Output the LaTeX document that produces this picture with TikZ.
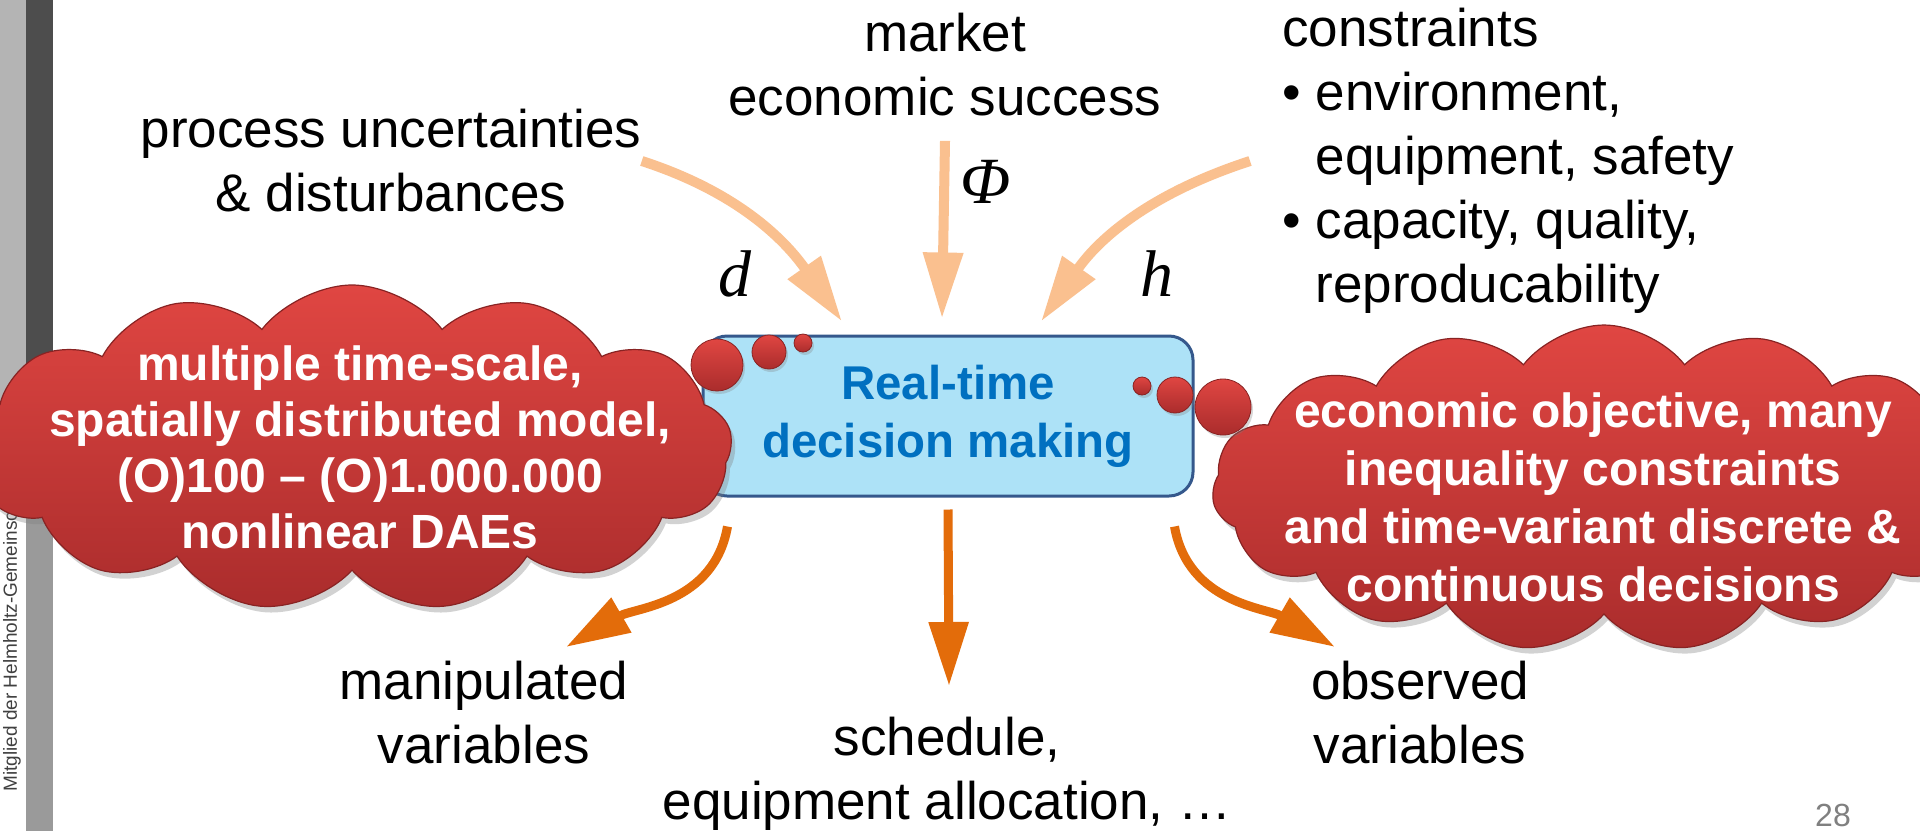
\documentclass[tikz,border=0pt]{standalone}
\usepackage{fontspec}
\setmainfont{Liberation Sans}
\newfontfamily\symfont{Liberation Serif}
\usetikzlibrary{arrows.meta,shapes.symbols,shadows}

\definecolor{cloudtop}{RGB}{224,70,66}
\definecolor{cloudbot}{RGB}{170,44,44}
\definecolor{inarrow}{RGB}{250,192,143}
\definecolor{outarrow}{RGB}{227,108,10}
\definecolor{boxfill}{RGB}{173,226,247}
\definecolor{boxline}{RGB}{53,88,140}
\definecolor{boxtext}{RGB}{0,112,192}
\definecolor{sidelight}{RGB}{180,180,180}
\definecolor{sidedark}{RGB}{77,77,77}
\definecolor{sidemid}{RGB}{154,154,154}

\begin{document}
\begin{tikzpicture}[x=0.5pt,y=0.5pt]
    \tikzstyle{lbl}=[align=center, inner sep=0pt, font=\fontsize{26.5}{32}\selectfont]
    \tikzstyle{sym}=[inner sep=0pt, font=\symfont\itshape\fontsize{33}{36}\selectfont]
    \tikzstyle{cloudy}=[cloud, cloud puffs=13, cloud puff arc=105, cloud ignores aspect,
                        top color=cloudtop, bottom color=cloudbot, draw=cloudbot!80!black, line width=0.6pt,
                        drop shadow={opacity=.35, shadow xshift=2pt, shadow yshift=-3pt}]
    \tikzstyle{cloudtxt}=[align=center, inner sep=0pt, text=white, font=\bfseries\fontsize{24}{28}\selectfont]
    \tikzstyle{bubble}=[circle, inner sep=0pt, top color=cloudtop, bottom color=cloudbot,
                        draw=cloudbot!80!black, line width=0.4pt,
                        drop shadow={opacity=.3, shadow xshift=1pt, shadow yshift=-1.5pt}]
    \tikzstyle{inarr}=[inarrow, line width=5pt, -{Triangle[length=33pt,width=19pt]}]
    \tikzstyle{outarr}=[outarrow, line width=4.5pt, -{Triangle[length=32pt,width=19pt]}]

    \useasboundingbox (0,0) rectangle (1920,-831);
    \fill[white] (0,0) rectangle (1920,-831);

    % side bar
    \fill[sidelight] (0,0) rectangle (26,-450);
    \fill[sidedark]  (26,0) rectangle (53,-450);
    \fill[sidemid]   (26,-450) rectangle (53,-831);
    \node[rotate=90, anchor=west, inner sep=0pt, text=black!75, font=\fontsize{9.5}{10}\selectfont]
        (member) at (12,-792) {Mitglied der Helmholtz-Gemeinschaft};

    % labels
    \node[lbl] (market) at (945,-65) {market\\economic success};
    \node[lbl] (proc) at (391,-161) {process uncertainties\\\& disturbances};
    \node[lbl, align=left, anchor=west] (cons) at (1282,-161)
        {constraints\\\textbullet\ environment,\\\hphantom{\textbullet\ }equipment, safety\\
         \textbullet\ capacity, quality,\\\hphantom{\textbullet\ }reproducability};
    \node[lbl] (manip) at (484,-713) {manipulated\\variables};
    \node[lbl] (sched) at (947,-774) {schedule,\\equipment allocation, …};
    \node[lbl] (obs) at (1420,-713) {observed\\variables};

    \node[sym] (dsym) at (735,-274) {d};
    \node[sym] (psym) at (986,-182) {Φ};
    \node[sym] (hsym) at (1157,-274) {h};

    \node[text=black!50, inner sep=0pt, font=\fontsize{16}{18}\selectfont] (pageno) at (1833,-815) {28};

    % central box
    \node[rectangle, rounded corners=12pt, minimum width=245pt, minimum height=80pt,
          fill=boxfill, draw=boxline, line width=1.5pt, text=boxtext, align=center,
          font=\bfseries\fontsize{23.7}{29}\selectfont] (rtdm) at (948,-416) {Real-time\\decision making};

    % clouds
    \node[cloudy, minimum width=380pt, minimum height=163pt] (lcloud) at (352,-448) {};
    \node[cloudtxt] (ltext) at (360,-447)
        {multiple time-scale,\\spatially distributed model,\\(O)100 – (O)1.000.000\\nonlinear DAEs};
    \node[cloudy, cloud puffs=15, minimum width=392pt, minimum height=163pt] (rcloud) at (1604,-488) {};
    \node[cloudtxt, font=\bfseries\fontsize{24}{29}\selectfont] (rtext) at (1593,-497)
        {economic objective, many\\inequality constraints\\and time-variant discrete \&\\continuous decisions};

    \node[bubble, minimum size=26pt] (lb1) at (717,-365) {};
    \node[bubble, minimum size=17pt] (lb2) at (769,-352) {};
    \node[bubble, minimum size=9pt]  (lb3) at (803,-343) {};
    \node[bubble, minimum size=9pt]  (rb1) at (1142,-386) {};
    \node[bubble, minimum size=18pt] (rb2) at (1175,-395) {};
    \node[bubble, minimum size=28pt] (rb3) at (1223,-407) {};

    % arrows
    \coordinate (dtip) at ([xshift=-53pt,yshift=6.5pt]rtdm.north);
    \coordinate (ptip) at ([xshift=-3pt,yshift=8pt]rtdm.north);
    \coordinate (htip) at ([xshift=46.5pt,yshift=6.5pt]rtdm.north);
    \draw[inarr] (proc.east) to[out=-18,in=125] (dtip);
    \draw[inarr] ([yshift=-12pt]market.south) -- (ptip);
    \draw[inarr] ([xshift=-16pt]cons.west) to[out=198,in=55] (htip);

    \coordinate (mtip) at (566,-647);
    \coordinate (stip) at (949,-686);
    \coordinate (otip) at (1335,-647);
    \draw[outarr] ([xshift=13pt,yshift=-14.5pt]rtdm.south west) to[out=-100,in=30] (mtip);
    \draw[outarr] ([yshift=-6pt]rtdm.south) -- (stip);
    \draw[outarr] ([xshift=-10pt,yshift=-14.5pt]rtdm.south east) to[out=-80,in=150] (otip);
\end{tikzpicture}
\end{document}
